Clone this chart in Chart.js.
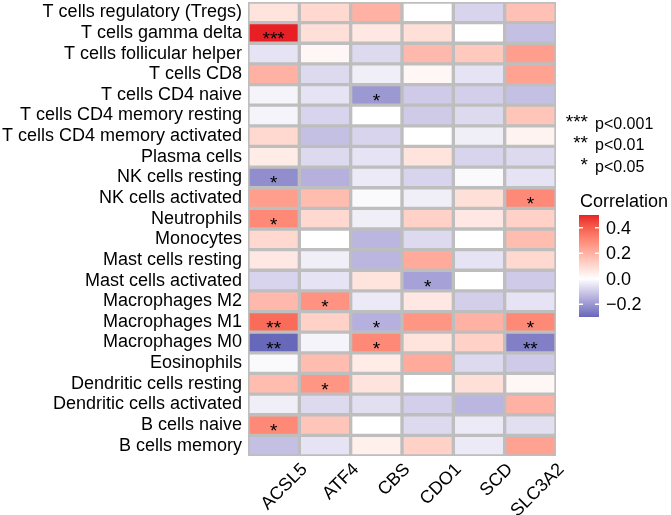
<!DOCTYPE html>
<html>
<head>
<meta charset="utf-8">
<script src="https://cdn.jsdelivr.net/npm/chart.js@4.4.0/dist/chart.umd.min.js"></script>
<style>
html,body{margin:0;padding:0;background:#fff;}
#wrap{width:671px;height:515px;position:relative;}
</style>
</head>
<body>
<div id="wrap"><canvas id="heat"></canvas></div>
<script>
// rows (immune cell types), top to bottom
cells = ["T cells regulatory (Tregs)","T cells gamma delta","T cells follicular helper","T cells CD8",
  "T cells CD4 naive","T cells CD4 memory resting","T cells CD4 memory activated","Plasma cells",
  "NK cells resting","NK cells activated","Neutrophils","Monocytes","Mast cells resting",
  "Mast cells activated","Macrophages M2","Macrophages M1","Macrophages M0","Eosinophils",
  "Dendritic cells resting","Dendritic cells activated","B cells naive","B cells memory"];
genes = ["ACSL5","ATF4","CBS","CDO1","SCD","SLC3A2"];

// correlation per gene (same order as cells)
acsl5  = [0.07, 0.50,-0.05, 0.20,-0.02,-0.02, 0.10, 0.05,-0.22, 0.25, 0.30, 0.10, 0.06,-0.08, 0.18, 0.37,-0.30,-0.01, 0.17,-0.03, 0.30,-0.12];
atf4   = [0.10, 0.08, 0.02,-0.07,-0.05,-0.08,-0.12,-0.07,-0.15, 0.17, 0.10, 0.00,-0.03,-0.05, 0.28, 0.12,-0.02, 0.17, 0.27,-0.07, 0.15,-0.05];
cbs    = [0.20, 0.06,-0.07,-0.03,-0.20, 0.00,-0.08,-0.05,-0.04,-0.01,-0.03,-0.14,-0.14, 0.07,-0.04,-0.15, 0.30, 0.05, 0.07,-0.06, 0.00, 0.04];
cdo1   = [0.00, 0.08, 0.18, 0.02,-0.10,-0.10, 0.00, 0.07,-0.08,-0.03, 0.12,-0.07, 0.22,-0.18, 0.06, 0.27, 0.07, 0.22, 0.00,-0.09,-0.07, 0.12];
scd    = [-0.08,0.00, 0.14,-0.05,-0.09,-0.07,-0.03,-0.08,-0.01, 0.08, 0.06, 0.00,-0.05, 0.00,-0.09, 0.20, 0.12,-0.07, 0.08,-0.14,-0.04,-0.04];
slc3a2 = [0.16,-0.12, 0.25, 0.24,-0.12, 0.15, 0.03,-0.07,-0.05, 0.30, 0.12, 0.17, 0.10,-0.10,-0.05, 0.30,-0.25,-0.10, 0.02, 0.20,-0.06, 0.24];

// significance marks per gene
acsl5Sig  = ["","***","","","","","","","*","","*","","","","","**","**","","","","*",""];
atf4Sig   = ["","","","","","","","","","","","","","","*","","","","*","","",""];
cbsSig    = ["","","","","*","","","","","","","","","","","*","*","","","","",""];
cdo1Sig   = ["","","","","","","","","","","","","","*","","","","","","","",""];
scdSig    = ["","","","","","","","","","","","","","","","","","","","","",""];
slc3a2Sig = ["","","","","","","","","","*","","","","","","*","**","","","","",""];

colorTicks = [0.4, 0.2, 0.0, -0.2];
sigKeys = ["***","**","*"];
sigText = ["p<0.001","p<0.01","p<0.05"];

const cols = [acsl5, atf4, cbs, cdo1, scd, slc3a2];
const sigs = [acsl5Sig, atf4Sig, cbsSig, cdo1Sig, scdSig, slc3a2Sig];
const all = cols.flat();
const vmin = Math.min(...all), vmax = Math.max(...all);

// Lab interpolation like ggplot's gradient2
function lin(c){c/=255;return c<=0.04045?c/12.92:Math.pow((c+0.055)/1.055,2.4);}
function unlin(c){c=c<=0.0031308?12.92*c:1.055*Math.pow(c,1/2.4)-0.055;return Math.max(0,Math.min(255,Math.round(c*255)));}
function toLab(rgb){
  const R=lin(rgb[0]),G=lin(rgb[1]),B=lin(rgb[2]);
  const X=(0.4124*R+0.3576*G+0.1805*B)/0.95047,Y=0.2126*R+0.7152*G+0.0722*B,Z=(0.0193*R+0.1192*G+0.9505*B)/1.08883;
  const f=t=>t>0.008856?Math.cbrt(t):7.787*t+16/116;
  return [116*f(Y)-16,500*(f(X)-f(Y)),200*(f(Y)-f(Z))];
}
function fromLab(l){
  const fy=(l[0]+16)/116,fx=fy+l[1]/500,fz=fy-l[2]/200;
  const g=t=>t*t*t>0.008856?t*t*t:(t-16/116)/7.787;
  const X=g(fx)*0.95047,Y=g(fy),Z=g(fz)*1.08883;
  const R=3.2406*X-1.5372*Y-0.4986*Z,G=-0.9689*X+1.8758*Y+0.0415*Z,B=0.0557*X-0.2040*Y+1.0570*Z;
  return [unlin(R),unlin(G),unlin(B)];
}
const lowLab=toLab([104,104,186]), midLab=toLab([255,255,255]), highLab=toLab([232,32,38]);
function fillFor(v){
  let a=midLab,b,t;
  if(v>=0){b=highLab;t=v/vmax;}else{b=lowLab;t=v/vmin;}
  t=Math.max(0,Math.min(1,t));
  const c=fromLab([a[0]+(b[0]-a[0])*t,a[1]+(b[1]-a[1])*t,a[2]+(b[2]-a[2])*t]);
  return 'rgb('+c.join(',')+')';
}

const FONT='"Liberation Sans", Arial, sans-serif';

const starPlugin = {
  id:'stars',
  afterDatasetsDraw(chart){
    const ctx=chart.ctx;
    ctx.save();
    ctx.fillStyle='#000';
    ctx.font='19px '+FONT;
    ctx.textAlign='center';
    ctx.textBaseline='alphabetic';
    chart.data.datasets.forEach((ds,j)=>{
      chart.getDatasetMeta(j).data.forEach((bar,i)=>{
        const s=sigs[j][i];
        if(!s) return;
        const cx=(bar.x+bar.base)/2;
        ctx.fillText(s,cx,bar.y+12);
      });
    });
    ctx.restore();
  }
};

const legendPlugin = {
  id:'sideLegend',
  afterDraw(chart){
    const ctx=chart.ctx;
    ctx.save();
    ctx.fillStyle='#000';
    const base=[128.5,150,172];
    sigKeys.forEach((k,i)=>{
      ctx.font='19px '+FONT; ctx.textAlign='right'; ctx.textBaseline='alphabetic';
      ctx.fillText(k,588,base[i]-1);
      ctx.font='16px '+FONT; ctx.textAlign='left';
      ctx.fillText(sigText[i],595,base[i]);
    });
    ctx.font='18px '+FONT; ctx.textAlign='left';
    ctx.fillText('Correlation',580,206.5);
    // colour bar
    const bx=579,bw=20,top=215,bot=317;
    for(let y=top;y<bot;y++){
      const v=vmax-(y+0.5-top)/(bot-top)*(vmax-vmin);
      ctx.fillStyle=fillFor(v);
      ctx.fillRect(bx,y,bw,1);
    }
    ctx.font='18px '+FONT; ctx.textBaseline='middle';
    colorTicks.forEach(t=>{
      const y=top+(vmax-t)/(vmax-vmin)*(bot-top);
      ctx.strokeStyle='#fff'; ctx.lineWidth=1.5;
      ctx.beginPath();
      ctx.moveTo(bx,y);ctx.lineTo(bx+4,y);
      ctx.moveTo(bx+bw-4,y);ctx.lineTo(bx+bw,y);
      ctx.stroke();
      ctx.fillStyle='#000';
      const lab=(t<0?'\u2212':'')+Math.abs(t).toFixed(1);
      ctx.fillText(lab,606,y+1);
    });
    ctx.restore();
  }
};

new Chart(document.getElementById('heat'),{
  type:'bar',
  data:{
    labels:cells,
    datasets:genes.map((g,j)=>({
      label:g,
      data:cols[j].map(()=>[j,j+1]),
      backgroundColor:cols[j].map(fillFor),
      borderColor:'#BEBEBE',
      borderWidth:2,
      borderSkipped:false,
      grouped:false,
      barPercentage:1,
      categoryPercentage:1
    }))
  },
  options:{
    indexAxis:'y',
    responsive:true,
    maintainAspectRatio:false,
    animation:false,
    layout:{padding:{left:0,right:115,top:2,bottom:0}},
    plugins:{legend:{display:false},tooltip:{enabled:false}},
    scales:{
      y:{
        type:'category',
        grid:{display:false,drawTicks:false},
        border:{display:false},
        ticks:{color:'#000',font:{family:FONT,size:18},padding:6,autoSkip:false},
        afterFit:s=>{s.width=248;s.paddingTop=0;s.paddingBottom=0;}
      },
      x:{
        type:'linear',min:0,max:genes.length,
        grid:{display:false,drawTicks:false},
        border:{display:false},
        afterBuildTicks:s=>{s.ticks=genes.map((g,i)=>({value:i+0.5}));},
        ticks:{color:'#000',font:{family:FONT,size:18},autoSkip:false,
          minRotation:45,maxRotation:45,labelOffset:31,padding:3,
          callback:(v,i)=>genes[i]},
        afterFit:s=>{s.height=59;s.paddingLeft=0;s.paddingRight=0;}
      }
    }
  },
  plugins:[starPlugin,legendPlugin]
});
</script>
</body>
</html>
